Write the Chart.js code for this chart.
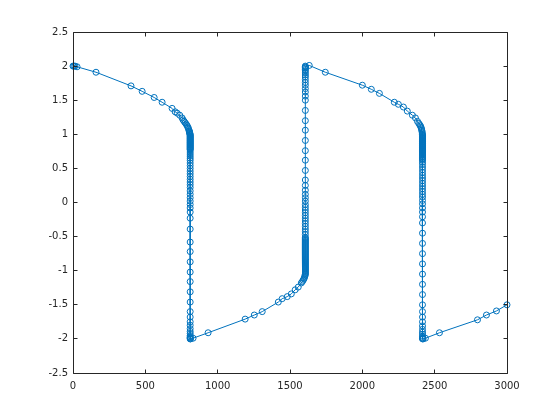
<!DOCTYPE html>
<html>
<head>
<meta charset="utf-8">
<script src="https://cdn.jsdelivr.net/npm/chart.js@4/dist/chart.umd.min.js"></script>
<style>
  html, body { margin: 0; padding: 0; background: #fff; }
  canvas { display: block; }
</style>
</head>
<body>
<canvas id="c" width="560" height="420"></canvas>
<script>
// slow branches: time / value
const slow1T = [0, 6, 14, 28, 159, 401, 478, 561, 616, 685, 706, 720, 738, 754, 761, 768, 775, 782, 788, 793, 797, 800, 803, 805, 806, 807, 808, 809];
const slow1Y = [2.00, 2.00, 2.00, 1.99, 1.91, 1.71, 1.63, 1.54, 1.47, 1.38, 1.33, 1.31, 1.28, 1.24, 1.21, 1.19, 1.17, 1.15, 1.13, 1.11, 1.09, 1.07, 1.05, 1.04, 1.03, 1.02, 1.01, 1.00];

const slow2T = [812, 830, 934, 1190, 1253, 1308, 1419, 1446, 1481, 1509, 1536, 1557, 1578, 1585, 1591, 1596, 1600, 1603, 1605];
const slow2Y = [-2.00, -1.99, -1.91, -1.71, -1.65, -1.60, -1.46, -1.41, -1.38, -1.34, -1.28, -1.24, -1.18, -1.16, -1.14, -1.12, -1.10, -1.08, -1.06];

const slow3T = [1633, 1744, 2000, 2062, 2118, 2221, 2249, 2284, 2311, 2346, 2367, 2381, 2390, 2397, 2402, 2406, 2409, 2411, 2413, 2414, 2415];
const slow3Y = [2.01, 1.91, 1.72, 1.66, 1.60, 1.47, 1.44, 1.40, 1.34, 1.28, 1.24, 1.19, 1.16, 1.14, 1.12, 1.10, 1.08, 1.06, 1.04, 1.02, 1.00];

const slow4T = [2420, 2436, 2533, 2796, 2858, 2927, 3000];
const slow4Y = [-2.00, -1.99, -1.91, -1.72, -1.65, -1.59, -1.50];

// fast jumps (nearly vertical)
const jumpTimes = [810, 1606, 2416];
const jump1Y = [0.99, 0.98, 0.97, 0.96, 0.95, 0.94, 0.93, 0.92, 0.91, 0.90, 0.89, 0.88, 0.87, 0.86, 0.85, 0.84, 0.83, 0.82, 0.81, 0.80, 0.79, 0.78, 0.77,
  0.74, 0.71, 0.68, 0.65, 0.62, 0.58, 0.54, 0.50, 0.46, 0.42, 0.38, 0.34, 0.30, 0.26, 0.22, 0.17, 0.12, 0.07, 0.02, -0.03, -0.08, -0.14, -0.23,
  -0.39, -0.58, -0.72, -0.87, -1.02, -1.16, -1.31, -1.46, -1.60, -1.68, -1.75, -1.80, -1.85, -1.89, -1.92, -1.95, -1.97, -1.98, -1.99, -2.00];
const jump2Y = [-1.05, -1.035, -1.02, -1.005, -0.99, -0.975, -0.96, -0.945, -0.93, -0.915, -0.90, -0.885, -0.87, -0.855, -0.84, -0.825, -0.81, -0.795,
  -0.78, -0.765, -0.75, -0.735, -0.72, -0.705, -0.69, -0.675, -0.66, -0.645, -0.63, -0.615, -0.60, -0.585, -0.57, -0.555, -0.54, -0.525, -0.51,
  -0.47, -0.43, -0.39, -0.35, -0.31, -0.27, -0.23, -0.19, -0.15, -0.11, -0.07, -0.03, 0.02, 0.07, 0.12, 0.18, 0.25, 0.33,
  0.47, 0.62, 0.76, 0.91, 1.06, 1.20, 1.35, 1.50, 1.56, 1.62, 1.67, 1.72, 1.76, 1.80, 1.84, 1.87, 1.90, 1.93, 1.95, 1.97, 1.98, 1.99, 2.00];
const jump3Y = [0.99, 0.98, 0.97, 0.96, 0.95, 0.94, 0.93, 0.92, 0.91, 0.90, 0.89, 0.88, 0.87, 0.86, 0.85, 0.84, 0.83, 0.82, 0.81, 0.80, 0.79, 0.78,
  0.77, 0.76, 0.75, 0.74, 0.725, 0.71, 0.695, 0.68, 0.665, 0.65, 0.635, 0.62,
  0.59, 0.56, 0.52, 0.48, 0.44, 0.40, 0.36, 0.32, 0.28, 0.24, 0.20, 0.16, 0.12, 0.08, 0.03, -0.02, -0.08, -0.14, -0.21, -0.30,
  -0.45, -0.60, -0.75, -0.90, -1.05, -1.20, -1.35, -1.50, -1.60, -1.68, -1.75, -1.81, -1.86, -1.90, -1.93, -1.96, -1.98, -1.99, -2.00];

const xTicks = [0, 500, 1000, 1500, 2000, 2500, 3000];
const yTicks = [-2.5, -2, -1.5, -1, -0.5, 0, 0.5, 1, 1.5, 2, 2.5];

const pts = [];
const addSlow = (ts, ys) => ts.forEach((t, i) => pts.push({ x: t, y: ys[i] }));
const addJump = (t, ys) => ys.forEach(v => pts.push({ x: t, y: v }));
addSlow(slow1T, slow1Y);
addJump(jumpTimes[0], jump1Y);
addSlow(slow2T, slow2Y);
addJump(jumpTimes[1], jump2Y);
addSlow(slow3T, slow3Y);
addJump(jumpTimes[2], jump3Y);
addSlow(slow4T, slow4Y);

const axisColor = '#262626';

// matlab-like box with inward ticks
const boxTicks = {
  id: 'boxTicks',
  afterDraw(chart) {
    const { ctx, chartArea: { left, right, top, bottom }, scales: { x, y } } = chart;
    const L = Math.floor(left) + 0.5, R = Math.floor(right) + 0.5;
    const T = Math.floor(top) + 0.5, B = Math.floor(bottom) + 0.5;
    const len = 4;
    ctx.save();
    ctx.strokeStyle = axisColor;
    ctx.lineWidth = 1;
    ctx.beginPath();
    ctx.rect(L, T, R - L, B - T);
    xTicks.forEach(v => {
      const px = Math.floor(x.getPixelForValue(v)) + 0.5;
      ctx.moveTo(px, B); ctx.lineTo(px, B - len);
      ctx.moveTo(px, T); ctx.lineTo(px, T + len);
    });
    yTicks.forEach(v => {
      const py = Math.floor(y.getPixelForValue(v)) + 0.5;
      ctx.moveTo(L, py); ctx.lineTo(L + len, py);
      ctx.moveTo(R, py); ctx.lineTo(R - len, py);
    });
    ctx.stroke();
    ctx.restore();
  }
};

new Chart(document.getElementById('c'), {
  type: 'scatter',
  data: {
    datasets: [{
      data: pts,
      showLine: true,
      borderColor: '#0072BD',
      borderWidth: 1,
      pointRadius: 3,
      pointBorderWidth: 1,
      pointBorderColor: '#0072BD',
      pointBackgroundColor: 'rgba(0,0,0,0)',
      pointStyle: 'circle',
      clip: false
    }]
  },
  plugins: [boxTicks],
  options: {
    responsive: false,
    animation: false,
    events: [],
    layout: { padding: { left: 0, top: 32, right: 53, bottom: 0 } },
    plugins: { legend: { display: false }, tooltip: { enabled: false } },
    scales: {
      x: {
        type: 'linear',
        min: 0, max: 3000,
        afterFit: s => { s.height = 47; },
        afterBuildTicks: s => { s.ticks = xTicks.map(v => ({ value: v })); },
        grid: { display: true, drawOnChartArea: false, drawTicks: false },
        border: { display: false },
        ticks: {
          autoSkip: false, maxRotation: 0, padding: 7,
          color: axisColor, font: { family: 'DejaVu Sans', size: 10 },
          callback: v => String(v)
        }
      },
      y: {
        type: 'linear',
        min: -2.5, max: 2.5,
        afterFit: s => { s.width = 73; },
        afterBuildTicks: s => { s.ticks = yTicks.map(v => ({ value: v })); },
        grid: { display: true, drawOnChartArea: false, drawTicks: false },
        border: { display: false },
        ticks: {
          autoSkip: false, padding: 5,
          color: axisColor, font: { family: 'DejaVu Sans', size: 10 },
          callback: v => String(v)
        }
      }
    }
  }
});
</script>
</body>
</html>
